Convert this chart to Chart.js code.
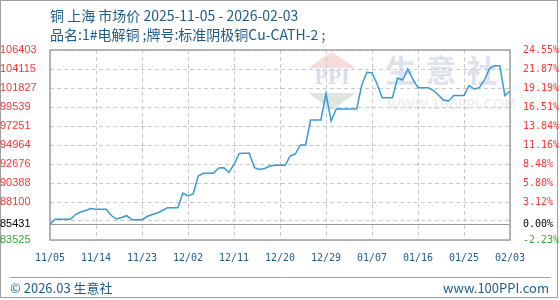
<!DOCTYPE html>
<html>
<head>
<meta charset="utf-8">
<script src="https://cdn.jsdelivr.net/npm/chart.js@4"></script>
<style>
  html, body { margin: 0; padding: 0; background: #fff; }
  #wrap { width: 560px; height: 300px; }
</style>
</head>
<body>
<div id="wrap"><canvas id="priceChart" width="560" height="300"></canvas></div>
<script>
// =============================
// DADOS DO GRÁFICO
// =============================

const titulo = "铜 上海 市场价 2025-11-05 - 2026-02-03"
const subtitulo = "品名:1#电解铜 ;牌号:标准阴极铜Cu-CATH-2 ;"

// x: 11/05 .. 02/03, one label every 9 days
const xLabels = ["11/05", "11/14", "11/23", "12/02", "12/11", "12/20", "12/29", "01/07", "01/16", "01/25", "02/03"]

// daily price, one value per day from 11/05
const precos = [
    85431, 86020, 86020, 86020, 86020, 86595, 86896, 87077, 87318, 87222,
    87222, 87222, 86475, 86054, 86234, 86451, 85969, 85969, 85969, 86355,
    86595, 86776, 87077, 87414, 87414, 87414, 89184, 88823, 89064, 91231,
    91556, 91556, 91556, 92195, 92231, 91677, 92616, 93940, 93965, 93965,
    92231, 92014, 92134, 92435, 92520, 92520, 92520, 93639, 93880, 94964,
    94964, 97974, 97974, 97974, 101165, 97854, 99299, 99299, 99299, 99299,
    99299, 102189, 103718, 103633, 102309, 100659, 100659, 100659, 103031, 102791,
    104115, 102851, 101863, 101863, 101863, 101526, 100984, 100382, 100262, 100924,
    100924, 100924, 102128, 101707, 101863, 102791, 104175, 104512, 104512, 100924,
    101466
]

// y ticks (85813 is only a grid line, no label)
const yTicks = [83525, 85431, 85813, 88100, 90388, 92676, 94964, 97251, 99539, 101827, 104115, 106403]
const yLabels = ["83525", "85431", "", "88100", "90388", "92676", "94964", "97251", "99539", "101827", "104115", "106403"]
const pctLabels = ["-2.23%", "0.00%", "", "3.12%", "5.80%", "8.48%", "11.16%", "13.84%", "16.51%", "19.19%", "21.87%", "24.55%"]

const base = 85431
const azul = "#1d5b8c"


// cor de cada rótulo do eixo y
function corTick(ctx){
    const i = ctx.index
    if(i === 0) return "#33aa33"
    if(i === 1) return "#000000"
    return "#ff3333"
}


// =============================
// PLUGIN: MOLDURA, TÍTULOS, MARCA D'ÁGUA
// =============================

const moldura = {
    id: "moldura",

    beforeDraw(chart){
        const c = chart.ctx
        const a = chart.chartArea
        c.save()

        c.fillStyle = "#fff"
        c.fillRect(0, 0, chart.width, chart.height)

        // borda externa
        c.strokeStyle = "#a0a0a0"
        c.lineWidth = 1
        c.strokeRect(0.5, 0.5, 557, 297)

        // títulos
        c.fillStyle = azul
        c.textBaseline = "middle"
        c.textAlign = "left"
        c.font = '14px "Noto Sans CJK SC", sans-serif'
        c.fillText(titulo, 50, 16)
        c.fillText(subtitulo, 50, 35)

        // rodapé
        c.strokeStyle = "#a0a0a0"
        c.beginPath()
        c.moveTo(10, 277.5)
        c.lineTo(551, 277.5)
        c.stroke()
        c.font = '13px "Noto Sans CJK SC", sans-serif'
        c.fillText("© 2026.03 生意社", 10, 288)
        c.textAlign = "right"
        c.fillText("www.100PPI.com", 549, 288)

        // marca d'água
        c.fillStyle = "#f8dcdc"
        c.beginPath()
        c.moveTo(332, 52)
        c.lineTo(356, 68)
        c.lineTo(308, 68)
        c.closePath()
        c.fill()
        c.fillStyle = "#dde8dd"
        c.beginPath()
        c.moveTo(308, 93)
        c.lineTo(356, 93)
        c.lineTo(332, 110)
        c.closePath()
        c.fill()
        c.fillStyle = "#d8dfea"
        c.textAlign = "center"
        c.font = 'bold 18px "DejaVu Serif", serif'
        c.fillText("PPI", 332, 79)
        c.font = 'bold 31px "Noto Sans CJK SC", sans-serif'
        c.fillStyle = "#dde2ec"
        c.fillText("生", 401, 70)
        c.fillText("意", 441, 70)
        c.fillText("社", 482, 70)
        c.font = '14px "DejaVu Sans", sans-serif'
        c.fillStyle = "#ebebeb"
        c.textAlign = "left"
        c.fillText("WWW.100PPI.COM", 387, 105)

        c.restore()
    },

    beforeDatasetsDraw(chart){
        const c = chart.ctx
        const a = chart.chartArea
        c.save()
        c.strokeStyle = "#a0a0a0"
        c.lineWidth = 1.5
        c.strokeRect(a.left, a.top, a.right - a.left, a.bottom - a.top)
        c.restore()
    }
}


// =============================
// CRIAÇÃO DO GRÁFICO
// =============================

const canvas = document.getElementById("priceChart")

new Chart(canvas.getContext("2d"), {

    type: "line",

    data: {
        datasets: [{
            label: "铜",
            data: precos.map((v, i) => ({ x: i, y: v })),
            borderColor: "#3399dd",
            borderWidth: 1.5,
            pointRadius: 0,
            tension: 0,
            fill: false
        }]
    },

    options: {
        responsive: false,
        animation: false,
        devicePixelRatio: 1,
        layout: { padding: { top: 50, bottom: 30, left: 0, right: 0 } },
        plugins: {
            legend: { display: false },
            tooltip: { enabled: false }
        },
        scales: {
            x: {
                type: "linear",
                min: 0,
                max: 90,
                afterBuildTicks: (s) => { s.ticks = xLabels.map((_, i) => ({ value: i * 9 })) },
                afterFit: (s) => { s.height = 30 },
                ticks: {
                    callback: (v) => xLabels[Math.round(v / 9)],
                    color: azul,
                    font: { family: "DejaVu Sans Mono", size: 10 },
                    padding: 12,
                    maxRotation: 0,
                    autoSkip: false
                },
                grid: { color: "#c8c8c8", drawTicks: false },
                border: { display: false, dash: [4, 3] }
            },
            y: {
                position: "left",
                min: 83525,
                max: 106403,
                afterBuildTicks: (s) => { s.ticks = yTicks.map(v => ({ value: v })) },
                afterFit: (s) => { s.width = 50 },
                ticks: {
                    callback: (v, i) => yLabels[i],
                    color: corTick,
                    font: { family: "Liberation Sans", size: 11 },
                    padding: 10,
                    crossAlign: "far",
                    autoSkip: false
                },
                grid: {
                    drawTicks: false,
                    color: (ctx) => {
                        if(!ctx.tick) return "#c8c8c8"
                        if(ctx.tick.value === base) return "#999999"
                        return "#c8c8c8"
                    }
                },
                border: {
                    display: false,
                    dash: (ctx) => (ctx.tick && ctx.tick.value === base) ? [] : [4, 3]
                }
            },
            y2: {
                position: "right",
                min: 83525,
                max: 106403,
                afterBuildTicks: (s) => { s.ticks = yTicks.map(v => ({ value: v })) },
                afterFit: (s) => { s.width = 50 },
                ticks: {
                    callback: (v, i) => pctLabels[i],
                    color: corTick,
                    font: { family: "DejaVu Sans Mono", size: 10 },
                    padding: 5,
                    autoSkip: false
                },
                grid: { display: false },
                border: { display: false }
            }
        }
    },

    plugins: [moldura]

})
</script>
</body>
</html>
